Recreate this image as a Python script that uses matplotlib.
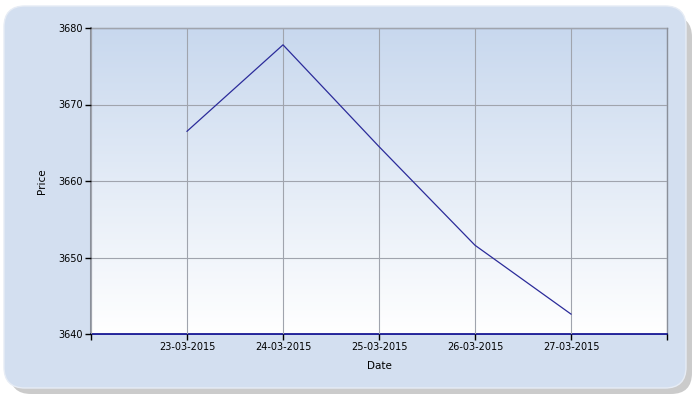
import matplotlib
matplotlib.use("Agg")
import matplotlib.pyplot as plt
import numpy as np
from matplotlib.patches import FancyBboxPatch

dates = ["23-03-2015", "24-03-2015", "25-03-2015", "26-03-2015", "27-03-2015"]
prices = [3666.5, 3677.8, 3664.5, 3651.6, 3642.6]
y_ticks = [3640, 3650, 3660, 3670, 3680]

plt.rcParams['font.family'] = ['DejaVu Sans']
fig = plt.figure(figsize=(7, 4), dpi=100)
fig.patch.set_facecolor('white')

# shadow and rounded background box
shadow = FancyBboxPatch((10/700, 6/400), 682/700, 378/400,
                        boxstyle="round,pad=0,rounding_size=0.03",
                        transform=fig.transFigure, facecolor='#a9a9a9',
                        edgecolor='none', alpha=0.6, zorder=0, mutation_aspect=700/400)
fig.patches.append(shadow)
box = FancyBboxPatch((4/700, 12/400), 682/700, 382/400,
                     boxstyle="round,pad=0,rounding_size=0.03",
                     transform=fig.transFigure, facecolor='#d3dff0',
                     edgecolor='#e6ecf5', linewidth=1, zorder=1, mutation_aspect=700/400)
fig.patches.append(box)

ax = fig.add_axes([91/700, 1 - 334/400, 576/700, 306/400])
ax.set_zorder(2)
ax.set_facecolor('none')

x = np.arange(1, len(dates) + 1)
ax.set_xlim(0, len(dates) + 1)
ax.set_ylim(3640, 3680)

# gradient
top = np.array([0xc8, 0xd8, 0xee]) / 255
bot = np.array([1.0, 1.0, 1.0])
t = np.linspace(0, 1, 256)[:, None]
grad = top[None, :] * (1 - t) + bot[None, :] * t
ax.imshow(grad[:, None, :], extent=[0, 1, 0, 1], transform=ax.transAxes,
          aspect='auto', zorder=0)

ax.plot(x, prices, color='#2b2b9a', linewidth=0.9, zorder=3)

ax.set_xticks(np.arange(0, len(dates) + 2))
ax.set_xticklabels([""] + dates + [""], fontsize=7)
ax.set_yticks(y_ticks)
ax.set_yticklabels([str(v) for v in y_ticks], fontsize=7)
ax.grid(True, color='#a0a4ad', linewidth=0.8, zorder=1)
ax.set_axisbelow(False)
for gl in ax.get_xgridlines() + ax.get_ygridlines():
    gl.set_zorder(1)

ax.tick_params(axis='both', direction='out', length=4, width=1, color='black', pad=2)
for s in ['top', 'right']:
    ax.spines[s].set_color('#8a8f99')
    ax.spines[s].set_linewidth(1)
ax.spines['left'].set_color('#8a8f99')
ax.spines['left'].set_linewidth(1.5)
ax.spines['bottom'].set_color('#00008b')
ax.spines['bottom'].set_linewidth(1.2)

ax.set_xlabel("Date", fontsize=7.5, labelpad=6)
ax.set_ylabel("Price", fontsize=7.5, labelpad=8)

fig.savefig("out.png", dpi=100)
